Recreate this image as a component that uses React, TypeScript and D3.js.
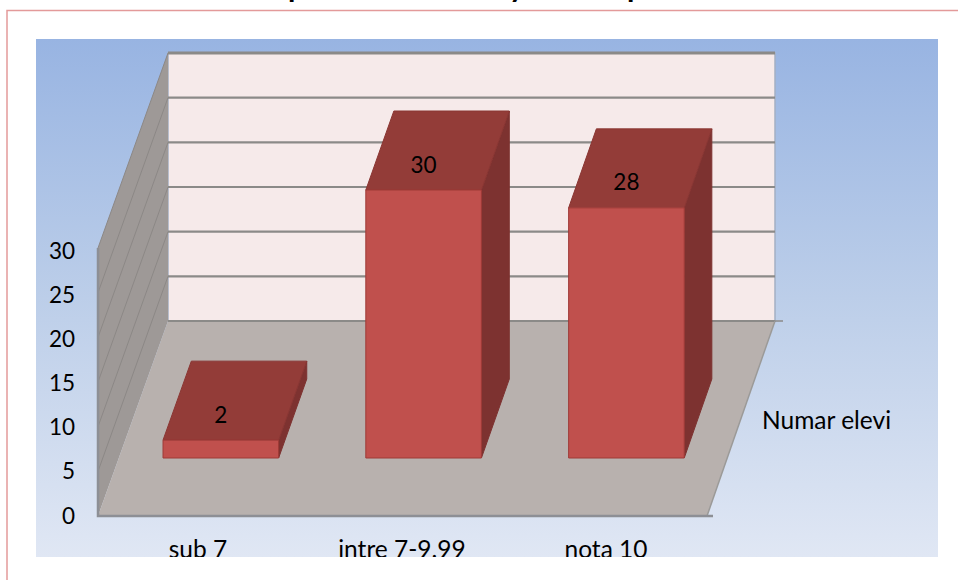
import React from "react";
import * as d3 from "d3";

const categories = ["sub 7", "intre 7-9.99", "nota 10"];
const values = [2, 30, 28];
const yTicks = [0, 5, 10, 15, 20, 25, 30];
const seriesName = "Numar elevi";
const titleFragments = ["p", "y", "p"];
const titleFragmentX = [288, 509, 627];

const W = 958, H = 580;
const panel = { x: 36, y: 39, w: 902, h: 518 };
const floorY = 516;
const depthX = 70, depthY = 195, backShrink = 2;
const barD0 = 58 / 195, barD1 = 137 / 195;

const y = d3.scaleLinear().domain([0, 30]).range([0, 268]);
const yLabel = d3.scaleLinear().domain([0, 30]).range([515, 250]);
const x = d3.scaleBand<string>().domain(categories).range([98.6, 707.6]).paddingInner(0.43).paddingOuter(0.215);
const labelX = d3.scalePoint<string>().domain(categories).range([198, 606]);

// oblique projection: px = horizontal position on the front plane, v = value, d = depth 0..1
const P = (px: number, v: number, d: number): [number, number] => [
  px - ((px - 98) / 609) * backShrink * d + depthX * d,
  floorY - y(v) - depthY * d,
];
const poly = (pts: [number, number][]) => (d3.line()(pts) || "") + "Z";

const font = "Lato, 'Open Sans', sans-serif";
const fsDigits = 22.5;
const fsWords = 24.5;
const front = 98, frontR = 707;

export default function App() {
  return (
    <svg width={W} height={H} viewBox={`0 0 ${W} ${H}`} style={{ position: "fixed", left: 0, top: 0, display: "block", background: "#fff" }} fontFamily={font}>
      <defs>
        <linearGradient id="bg" x1="0" y1="0" x2="0" y2="1">
          <stop offset="0" stopColor="#98b4e2" />
          <stop offset="0.5" stopColor="#bccee9" />
          <stop offset="1" stopColor="#e0e7f4" />
        </linearGradient>
        <clipPath id="pclip"><rect x={panel.x} y={panel.y} width={panel.w} height={panel.h} /></clipPath>
      </defs>

      {titleFragments.map((t, i) => (
        <text key={i} x={titleFragmentX[i]} y={-3} fontSize={30} fontWeight={700} fill="#000" fontFamily={font}>{t}</text>
      ))}

      <path d={`M7 ${H}V10.5H${W}`} fill="none" stroke="#e39a9a" strokeWidth={1.5} />
      <rect x={panel.x} y={panel.y} width={panel.w} height={panel.h} fill="url(#bg)" />

      {/* back wall */}
      <path d={poly([P(front, 0, 1), P(frontR, 0, 1), P(frontR, 30, 1), P(front, 30, 1)])} fill="#f6eaea" stroke="#a4b0c4" strokeWidth={1.5} />
      {/* left wall */}
      <path d={poly([P(front, 0, 0), P(front, 0, 1), P(front, 30, 1), P(front, 30, 0)])} fill="#9e9997" />
      {/* floor */}
      <path d={poly([P(front, 0, 0), P(frontR, 0, 0), P(frontR, 0, 1), P(front, 0, 1)])} fill="#b8b1ae" />

      {yTicks.map((t) => (
        <g key={t}>
          {t > 0 && <path d={d3.line()([P(front, t, 0), P(front, t, 1)]) || ""} stroke="#8c8886" strokeWidth={1} fill="none" />}
          <path d={d3.line()([P(front, t, 1), P(frontR, t, 1)]) || ""} stroke="#8b8a88" strokeWidth={t === 30 ? 3 : 2.2} fill="none" />
          <text x={75} y={yLabel(t)} textAnchor="end" dominantBaseline="central" fontSize={fsDigits} fill="#000">{t}</text>
        </g>
      ))}
      <path d={d3.line()([P(frontR, 0, 1), P(frontR, 0, 0)]) || ""} stroke="#9b9a98" strokeWidth={1.5} fill="none" />
      <path d={`M${P(frontR, 0, 1)[0]} ${P(frontR, 0, 1)[1]}h8`} stroke="#8b8a88" strokeWidth={1.5} />
      <path d={`M${front} ${P(front, 30, 0)[1]}V${floorY}H${frontR + 6}`} stroke="#8d8f95" strokeWidth={2.5} fill="none" />

      {/* bars */}
      {categories.map((c, i) => {
        const l = x(c)!, r = l + x.bandwidth(), v = values[i];
        const cx = P((l + r) / 2, v, barD0)[0];
        return (
          <g key={c} stroke="#9e3a37" strokeWidth={1} strokeLinejoin="round">
            <path d={poly([P(r, 0, barD0), P(r, 0, barD1), P(r, v, barD1), P(r, v, barD0)])} fill="#7d3230" stroke="#7d3230" />
            <path d={poly([P(l, v, barD0), P(r, v, barD0), P(r, v, barD1), P(l, v, barD1)])} fill="#933c38" stroke="#8a3633" />
            <path d={poly([P(l, 0, barD0), P(r, 0, barD0), P(r, v, barD0), P(l, v, barD0)])} fill="#c0504d" />
            <text x={cx} y={P(l, v, barD0)[1] - 26} textAnchor="middle" dominantBaseline="central" fontSize={fsDigits} fill="#000" stroke="none">{v}</text>
          </g>
        );
      })}

      <g clipPath="url(#pclip)">
        {categories.map((c) => (
          <text key={c} x={labelX(c)} y={558} textAnchor="middle" fontSize={fsWords} fill="#000">{c}</text>
        ))}
      </g>
      <text x={762} y={419} dominantBaseline="central" fontSize={fsWords} fill="#000">{seriesName}</text>
    </svg>
  );
}
